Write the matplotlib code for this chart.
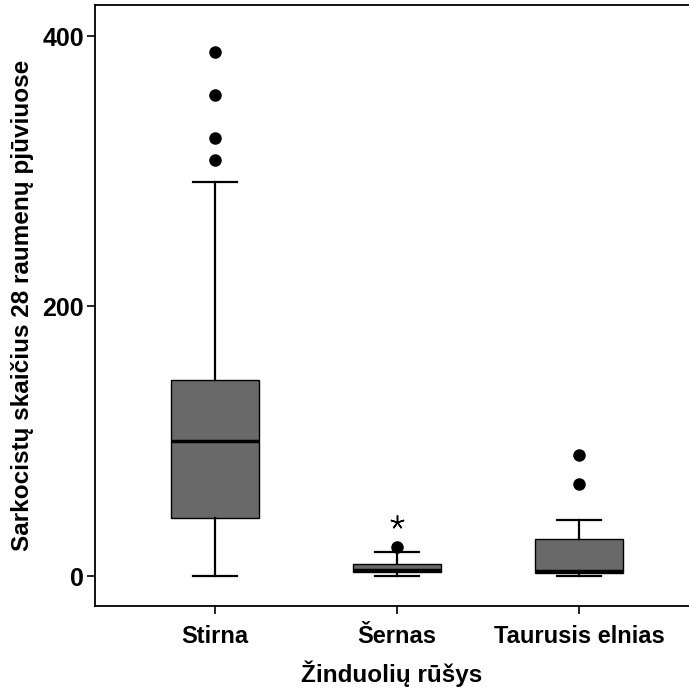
import matplotlib
matplotlib.use("Agg")
import matplotlib.pyplot as plt

categories = ["Stirna", "Šernas", "Taurusis elnias"]
whislo = [0.0, 0.0, 0.0]
q1 = [42.7, 3.0, 2.0]
med = [100.0, 4.4, 3.7]
q3 = [145.2, 8.9, 27.6]
whishi = [292.0, 18.0, 41.5]
outliers = [[388.4, 356.3, 324.7, 308.1], [21.7], [89.6, 68.1]]
extremes = [[], [40.2], []]
yticks = [0, 200, 400]

plt.rcParams['font.family'] = ['Liberation Sans', 'DejaVu Sans']
plt.rcParams['font.weight'] = 'bold'

fig = plt.figure(figsize=(6.89, 6.92), dpi=100)
ax = fig.add_axes([95/689, 1-606/692, 1-95/689, (606-5)/692])

positions = list(range(1, len(categories) + 1))
stats = []
for i, c in enumerate(categories):
    stats.append(dict(label=c, whislo=whislo[i], q1=q1[i], med=med[i],
                      q3=q3[i], whishi=whishi[i], fliers=outliers[i]))

ax.bxp(stats, positions=positions, widths=0.48, patch_artist=True,
       boxprops=dict(facecolor='#696969', edgecolor='black', linewidth=1.0),
       medianprops=dict(color='black', linewidth=2.5),
       whiskerprops=dict(color='black', linewidth=1.6),
       capprops=dict(color='black', linewidth=1.6),
       capwidths=0.24,
       flierprops=dict(marker='o', markerfacecolor='black', markeredgecolor='black',
                       markersize=8, linestyle='none'))

for p, ex in zip(positions, extremes):
    if ex:
        ax.plot([p] * len(ex), ex, linestyle='none', marker=(5, 2, 0),
                color='black', markersize=10, markeredgewidth=1.1)

ax.set_xlim(0.341, 3.604)
ax.set_ylim(-22.2, 423)
ax.set_yticks(yticks)
ax.set_yticklabels([str(v) for v in yticks], fontsize=18, fontweight='bold')
ax.set_xticks(positions)
ax.set_xticklabels(categories, fontsize=17, fontweight='bold')
ax.tick_params(axis='both', length=6, width=1.2, color='black')
ax.tick_params(axis='x', pad=8)
ax.tick_params(axis='y', pad=2)

for s in ['left', 'bottom', 'top']:
    ax.spines[s].set_linewidth(1.3)
    ax.spines[s].set_color('black')
ax.spines['right'].set_visible(False)

ax.set_xlabel("Žinduolių rūšys", fontsize=17.5, fontweight='bold', labelpad=9)
ax.set_ylabel("Sarkocistų skaičius 28 raumenų pjūviuose", fontsize=17.5,
              fontweight='bold', labelpad=6)

fig.savefig("out.png", dpi=100)
